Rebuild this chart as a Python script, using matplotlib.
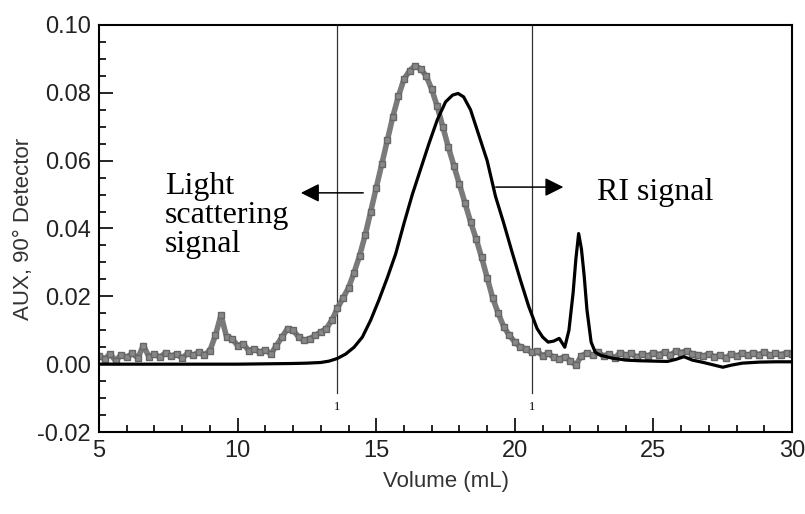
import numpy as np
import matplotlib.pyplot as plt
from matplotlib.ticker import MultipleLocator

# light scattering trace, sampled every 0.2 mL from 5 to 30 (values x 1e-3)
ls_volume = np.round(np.arange(5.0, 30.001, 0.2), 1)
ls_milli = [
  2.5, 1.5, 3.0, 1.0, 2.8, 2.0, 3.2, 1.8, 5.5, 2.2,
  3.0, 2.0, 3.4, 2.4, 3.0, 1.8, 3.2, 2.6, 3.6, 2.8,
  4.0, 8.5, 14.5, 8.0, 7.5, 5.5, 6.0, 4.0, 4.5, 3.5,
  4.2, 3.0, 5.5, 8.0, 10.5, 10.0, 8.0, 7.0, 7.5, 8.5,
  9.5, 10.5, 13.0, 16.5, 19.5, 22.5, 27, 32, 38, 45,
  52, 59, 66, 73, 79, 84, 86.5, 88, 87, 85,
  81, 76, 70, 64, 58.5, 53, 47.5, 42, 37, 31.5,
  25.5, 19.5, 15, 11, 8.5, 6.5, 5.0, 4.5, 3.5, 3.8,
  2.5, 3.2, 2.0, 1.5, 2.2, 1.0, -0.3, 2.5, 3.2, 2.6,
  3.5, 2.4, 3.0, 1.8, 3.4, 2.6, 3.2, 2.0, 3.0, 2.4,
  3.4, 2.8, 3.6, 2.6, 3.8, 3.4, 4.0, 3.0, 2.8, 2.4,
  3.0, 2.2, 2.6, 1.8, 3.0, 2.4, 3.2, 2.6, 3.4, 2.8,
  3.6, 2.6, 3.2, 2.8, 3.4, 3.0,
]
ls_signal = np.array(ls_milli) / 1000.0

# refractive index trace (values x 1e-3)
ri_volume = [5, 6, 7, 8, 9, 10, 11, 12, 12.5, 13, 13.3, 13.6, 13.9, 14.2, 14.5, 14.8,
             15.1, 15.4, 15.7, 16.0, 16.3, 16.6, 16.9, 17.2, 17.5, 17.75, 17.95, 18.15,
             18.4, 18.7, 19.0, 19.3, 19.6, 19.9, 20.2, 20.5, 20.8, 21.0, 21.2, 21.4, 21.6,
             21.8, 21.95, 22.1, 22.2, 22.3, 22.4, 22.5, 22.6, 22.75, 22.9, 23.1, 23.5, 24,
             24.5, 25, 25.5, 25.8, 26.1, 26.4, 26.8, 27.2, 27.5, 27.8, 28.2, 28.8, 29.4, 30]
ri_milli = [0.0, 0.0, 0.0, 0.0, 0.0, 0.0, 0.1, 0.2, 0.3, 0.5, 0.9, 1.7, 3.0, 5.0, 8.0, 13.0,
            19.0, 25.5, 32.5, 41.5, 50, 57.5, 65, 72, 77.3, 79.3, 79.8, 78.8,
            75, 67.5, 60, 49.5, 41.5, 33, 24.8, 17, 10.5, 8.0, 6.5, 6.8, 7.6,
            5.0, 10, 21, 31, 38.5, 34, 26, 16, 6.5, 3.5, 2.6, 1.8, 1.2,
            1.0, 0.9, 0.8, 1.4, 2.2, 1.2, 0.5, -0.3, -0.9, -0.3, 0.3, 0.6, 0.7, 0.7]
ri_signal = np.array(ri_milli) / 1000.0

marker_volumes = [13.6, 20.62]

sans = 'Liberation Sans'
px = 1 / 100
fig = plt.figure(figsize=(805 * px, 514 * px), dpi=100)
ax = fig.add_axes([0.123, 0.1595, 0.861, 0.792])

ax.plot(ls_volume, ls_signal, color='#7a7a7a', lw=4, marker='s', ms=4.5, mec='#666666', mfc='#888888', zorder=2)
ax.plot(ri_volume, ri_signal, color='black', lw=2.3, zorder=3)

for v in marker_volumes:
  ax.plot([v, v], [-0.0085, 0.10], color='#333333', lw=0.9, zorder=1)
  ax.text(v, -0.0125, '1', ha='center', va='center', fontsize=9, family='Liberation Serif')

ax.set_xlim(5, 30)
ax.set_ylim(-0.02, 0.10)
ax.xaxis.set_major_locator(MultipleLocator(5))
ax.xaxis.set_minor_locator(MultipleLocator(1))
ax.yaxis.set_major_locator(MultipleLocator(0.02))
ax.yaxis.set_minor_locator(MultipleLocator(0.005))
ax.yaxis.set_major_formatter(plt.FuncFormatter(lambda v, p: f'{v:.2f}'))
ax.tick_params(which='both', direction='in', top=False, right=False, width=1.2)
ax.tick_params(which='major', length=10, labelsize=17, pad=6)
ax.tick_params(which='minor', length=5)
for lab in ax.get_xticklabels() + ax.get_yticklabels():
  lab.set_family(sans)
  lab.set_color('#222222')
for s in ax.spines.values():
  s.set_linewidth(1.5)

ax.set_xlabel('Volume (mL)', fontsize=16, family=sans, color='#333333', labelpad=6)
ax.set_ylabel('AUX, 90° Detector', fontsize=16, family=sans, color='#333333', labelpad=2)

serif = dict(fontsize=23, family='Liberation Serif', va='center', ha='left')
ax.text(7.38, 0.0439, 'Light\nscattering\nsignal', linespacing=1.0, **serif)
ax.text(22.95, 0.0507, 'RI signal', **serif)
ax.annotate('', xy=(12.18, 0.0505), xytext=(14.63, 0.0505),
            arrowprops=dict(arrowstyle='-|>', color='black', lw=1.1, mutation_scale=28))
ax.annotate('', xy=(21.85, 0.0522), xytext=(19.21, 0.0522),
            arrowprops=dict(arrowstyle='-|>', color='black', lw=1.1, mutation_scale=28))

plt.savefig('out.png', dpi=100)
